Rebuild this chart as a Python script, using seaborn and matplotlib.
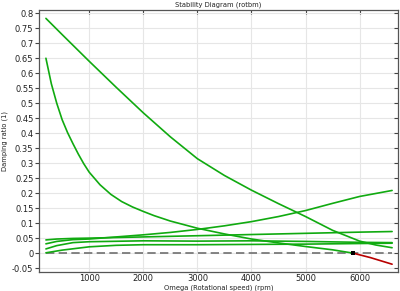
import numpy as np
import pandas as pd
import matplotlib
matplotlib.use("Agg")
import matplotlib.pyplot as plt
import seaborn as sns

# Data
omega_a = [200, 500, 1000, 1500, 2000, 2500, 3000, 3500, 4000, 4500, 5000, 5500, 6000, 6300, 6600]
damp_a = [0.783, 0.729, 0.640, 0.553, 0.468, 0.388, 0.315, 0.259, 0.210, 0.165, 0.122, 0.076, 0.040, 0.027, 0.018]

omega_b = [200, 300, 400, 500, 600, 700, 800, 900, 1000, 1200, 1400, 1600, 1800, 2000, 2200,
           2500, 3000, 3500, 4000, 4500, 5000, 5500, 5876]
damp_b = [0.650, 0.565, 0.500, 0.445, 0.402, 0.365, 0.330, 0.298, 0.270, 0.228, 0.196, 0.172,
          0.154, 0.139, 0.125, 0.107, 0.083, 0.064, 0.047, 0.034, 0.022, 0.011, 0.000]

omega_b_unstable = [5876, 6200, 6600]
damp_b_unstable = [0.000, -0.015, -0.037]

omega_c = [200, 400, 700, 1000, 1500, 2000, 2500, 3000, 3500, 4000, 4500, 5000, 5500, 6000, 6600]
damp_c = [0.031, 0.039, 0.045, 0.047, 0.054, 0.061, 0.069, 0.079, 0.091, 0.105, 0.122, 0.142, 0.166, 0.189, 0.209]

omega_d = [200, 400, 700, 1000, 2000, 3000, 4000, 5000, 6000, 6600]
damp_d = [0.044, 0.047, 0.049, 0.050, 0.054, 0.058, 0.062, 0.066, 0.070, 0.072]

omega_e = [200, 400, 700, 1000, 2000, 3000, 4000, 5000, 6000, 6600]
damp_e = [0.014, 0.025, 0.035, 0.038, 0.041, 0.040, 0.041, 0.039, 0.036, 0.035]

omega_f = [200, 500, 1000, 1500, 2000, 3000, 4000, 5000, 6000, 6600]
damp_f = [0.001, 0.010, 0.021, 0.026, 0.028, 0.028, 0.029, 0.030, 0.032, 0.033]

zero_omega = [200, 6600]
zero_damp = [0.0, 0.0]

crit_omega = [5876]
crit_damp = [0.0]

xticks = [1000, 2000, 3000, 4000, 5000, 6000]
yticks = [-0.05, 0, 0.05, 0.1, 0.15, 0.2, 0.25, 0.3, 0.35, 0.4, 0.45, 0.5, 0.55, 0.6, 0.65, 0.7, 0.75, 0.8]
ytick_labels = ["-0.05", "0", "0.05", "0.1", "0.15", "0.2", "0.25", "0.3", "0.35", "0.4",
                "0.45", "0.5", "0.55", "0.6", "0.65", "0.7", "0.75", "0.8"]

sns.set_style("white")
plt.rcParams["font.family"] = ["DejaVu Sans"]

W, H = 400, 291
fig = plt.figure(figsize=(W / 100, H / 100), dpi=100)
left, right, top, bottom = 39, 397.5, 10, 271.7
ax = fig.add_axes([left / W, 1 - bottom / H, (right - left) / W, (bottom - top) / H])

green = "#10aa10"
red = "#b80000"
lw = 1.2

ax.grid(True, color="#e6e6e6", linewidth=0.8)
ax.set_axisbelow(True)

sns.lineplot(x=zero_omega, y=zero_damp, ax=ax, color="#707070", linewidth=1.2,
             linestyle=(0, (5, 2.6)), zorder=2)

for xs, ys in [(omega_a, damp_a), (omega_b, damp_b), (omega_c, damp_c),
               (omega_d, damp_d), (omega_e, damp_e), (omega_f, damp_f)]:
    sns.lineplot(x=xs, y=ys, ax=ax, color=green, linewidth=lw, zorder=3)

sns.lineplot(x=omega_b_unstable, y=damp_b_unstable, ax=ax, color=red, linewidth=lw, zorder=3)
sns.scatterplot(x=crit_omega, y=crit_damp, ax=ax, color="black", marker="s", s=9,
                linewidth=0, zorder=4)

ax.set_xlim(72, 6700)
ax.set_ylim(-0.062, 0.811)
ax.set_xticks(xticks)
ax.set_xticklabels([str(t) for t in xticks])
ax.set_yticks(yticks)
ax.set_yticklabels(ytick_labels)

ax.tick_params(axis="both", direction="in", length=3, width=0.8, color="#444444",
               labelsize=6.0, labelcolor="#222222", top=True, right=True, pad=2)
ax.tick_params(axis="y", which="both", left=True, right=True, pad=1)
ax.yaxis.set_tick_params(which="major", direction="out")
# keep right-side ticks pointing inward
for t in ax.yaxis.get_major_ticks():
    t.tick2line.set_marker(matplotlib.lines.TICKLEFT)

for s in ax.spines.values():
    s.set_color("#555555")
    s.set_linewidth(0.9)

ax.set_title("Stability Diagram (rotbm)", fontsize=4.9, color="#222222", pad=2.5)
ax.set_xlabel("Omega (Rotational speed) (rpm)", fontsize=4.9, color="#222222", labelpad=0.5)
ax.set_ylabel("Damping ratio (1)", fontsize=4.9, color="#222222", labelpad=3)

fig.savefig("out.png", dpi=100)
